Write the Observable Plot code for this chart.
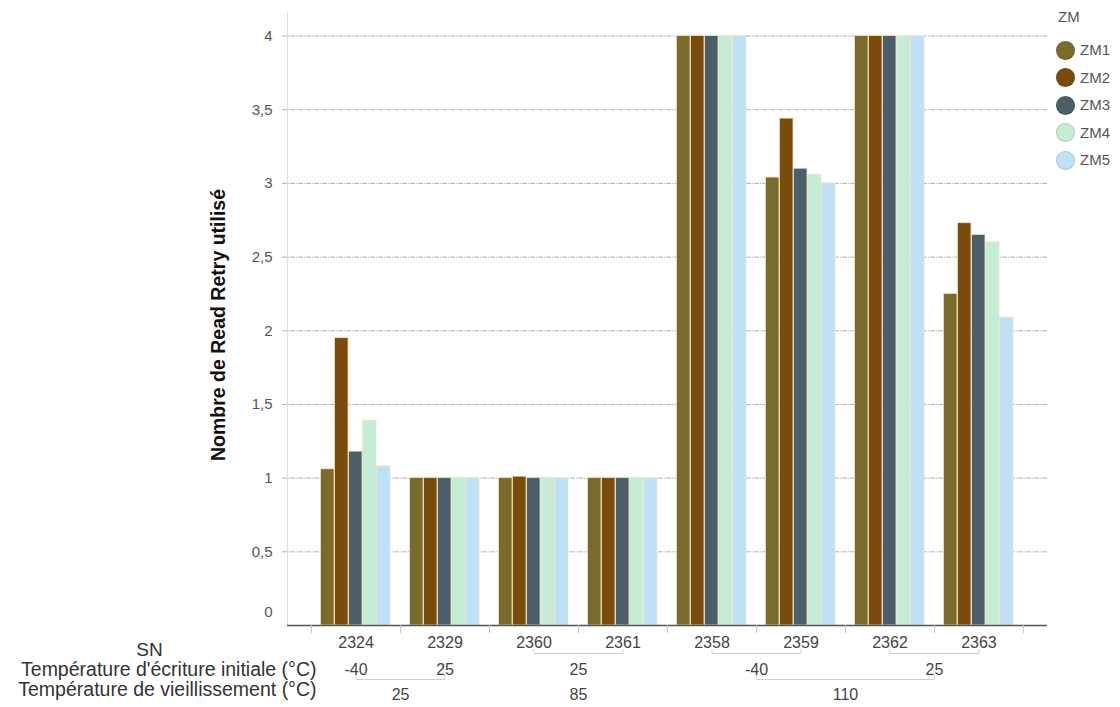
<!DOCTYPE html>
<html><head><meta charset="utf-8">
<script src="https://cdn.jsdelivr.net/npm/d3@7"></script>
<script src="https://cdn.jsdelivr.net/npm/@observablehq/plot@0.6"></script>
<style>
body{margin:0;background:#fff;font-family:"Liberation Sans",Arial,Helvetica,sans-serif;}
#wrap{position:relative;width:1120px;height:707px;overflow:hidden;}
#legend{position:absolute;left:1050px;top:0;font-size:15px;color:#555;}
#legend .title{position:absolute;left:8px;top:8px;white-space:nowrap;}
#legend .item{position:absolute;left:6px;white-space:nowrap;height:20px;line-height:20px;}
#legend .sw{display:inline-block;width:19px;height:19px;border-radius:50%;vertical-align:middle;box-sizing:border-box;border:1px solid rgba(0,0,0,0.12);margin-right:5px;}
#legend .lb{vertical-align:middle;}
</style></head>
<body><div id="wrap"><div id="chart"></div><div id="legend"></div></div>
<script>
const sn = ["2324","2329","2360","2361","2358","2359","2362","2363"];
const zm = ["ZM1","ZM2","ZM3","ZM4","ZM5"];
const zm1 = [1.06, 1, 1,    1, 4, 3.04, 4, 2.25];
const zm2 = [1.95, 1, 1.01, 1, 4, 3.44, 4, 2.73];
const zm3 = [1.18, 1, 1,    1, 4, 3.10, 4, 2.65];
const zm4 = [1.39, 1, 1,    1, 4, 3.06, 4, 2.60];
const zm5 = [1.08, 1, 1,    1, 4, 3.00, 4, 2.09];
const writeTemp = ["-40","25","25","25","-40","-40","25","25"];
const ageTemp = ["25","25","85","85","110","110","110","110"];
const yTicks = [0, 0.5, 1, 1.5, 2, 2.5, 3, 3.5, 4];
const colors = ["#7a6b2a", "#7b4b0c", "#4b5f6a", "#c5ecd4", "#bfe1f8"];
const yTitle = "Nombre de Read Retry utilisé";
const rowHeaders = ["SN", "Température d'écriture initiale (°C)", "Température de vieillissement (°C)"];

const series = [zm1, zm2, zm3, zm4, zm5];
const width = 1120, height = 707;
const marginLeft = 287, marginRight = 73, marginTop = 12, marginBottom = 82;
const padOuter = 0.27;
const step = (width - marginLeft - marginRight) / (sn.length + 2 * padOuter);
const barW = 13.5, pitch = 14, groupOff = 9.5;
const bracket = "#cfcfcf";

function runs(keys) {
  const out = [];
  keys.forEach((k, i) => {
    const last = out[out.length - 1];
    if (last && last.key === k) last.end = i; else out.push({key: k, start: i, end: i});
  });
  return out;
}
const writeRuns = runs(sn.map((_, i) => ageTemp[i] + "|" + writeTemp[i])).map(r => ({...r, label: writeTemp[r.start]}));
const ageRuns = runs(ageTemp).map(r => ({...r, label: ageTemp[r.start]}));

const font = "'Liberation Sans', Arial, sans-serif";
const marks = [];
// gridlines
marks.push(Plot.ruleY(yTicks.filter(v => v > 0), {stroke: "#b3b3b3", strokeDasharray: "5,1,1,1", strokeWidth: 1, insetLeft: -5}));
// left frame line
marks.push(Plot.ruleX([sn[0]], {dx: -(0.5 + padOuter) * step, stroke: "#dcdcdc"}));
// bars
series.forEach((vals, j) => {
  const data = sn.map((s, i) => ({sn: s, zm: zm[j], value: vals[i]}));
  const il = groupOff + j * pitch;
  marks.push(Plot.barY(data, {x: "sn", y: "value", fill: colors[j], stroke: "#efe3c6", strokeWidth: 0.8,
    insetLeft: il, insetRight: step - il - barW}));
});
// baseline
marks.push(Plot.ruleY([0], {stroke: "#555", strokeWidth: 1.5}));
// category boundary ticks
marks.push(Plot.ruleX(sn, {x: d => d, y1: 0, y2: 0, dx: -step / 2, insetBottom: -8, stroke: "#c8c8c8"}));
marks.push(Plot.ruleX([sn[sn.length - 1]], {x: d => d, y1: 0, y2: 0, dx: step / 2, insetBottom: -8, stroke: "#c8c8c8"}));
// y tick labels
marks.push(Plot.text(yTicks.filter(v => v > 0), {y: d => d, frameAnchor: "left", dx: -15, textAnchor: "end",
  text: d => String(d).replace(".", ","), fontSize: 15, fill: "#555"}));
marks.push(Plot.text([0], {y: d => d, frameAnchor: "left", dx: -15, dy: -13, textAnchor: "end",
  text: d => String(d), fontSize: 15, fill: "#555"}));
// y title
marks.push(Plot.text([yTitle], {frameAnchor: "left", textAnchor: "middle", dx: -69, dy: 6, rotate: -90, fontWeight: "bold", fontSize: 19.5, fill: "#111"}));
// x axis (SN)
marks.push(Plot.axisX({tickSize: 0, tickPadding: 11, fontSize: 16, fill: "#444", label: null}));
// row headers
const hdr = {frameAnchor: "bottom-left", lineAnchor: "middle", fill: "#333"};
marks.push(Plot.text([rowHeaders[0]], {...hdr, dx: -138, dy: 24, textAnchor: "middle", fontSize: 19}));
marks.push(Plot.text([rowHeaders[1]], {...hdr, dx: 29, dy: 44, textAnchor: "end", fontSize: 19.5}));
marks.push(Plot.text([rowHeaders[2]], {...hdr, dx: 29, dy: 64, textAnchor: "end", fontSize: 19.5}));
// write-temp row
writeRuns.forEach(r => {
  const off = (r.end - r.start) / 2 * step;
  marks.push(Plot.text([r], {x: d => sn[d.start], frameAnchor: "bottom", lineAnchor: "middle", dx: off, dy: 44, text: "label", fontSize: 16, fill: "#444"}));
  if (r.end > r.start) {
    marks.push(Plot.link([r], {x1: d => sn[d.start], x2: d => sn[d.end], y1: 0, y2: 0, dy: 28, stroke: bracket}));
    marks.push(Plot.ruleX([sn[r.start], sn[r.end]], {x: d => d, y1: 0, y2: 0, insetTop: 24, insetBottom: -28, stroke: bracket}));
  }
});
// age-temp row
ageRuns.forEach(r => {
  const kids = writeRuns.filter(w => w.start >= r.start && w.end <= r.end);
  const off = (r.end - r.start) / 2 * step;
  marks.push(Plot.text([r], {x: d => sn[d.start], frameAnchor: "bottom", lineAnchor: "middle", dx: off, dy: 69, text: "label", fontSize: 16, fill: "#444"}));
  if (kids.length > 1) {
    const a = kids[0], b = kids[kids.length - 1];
    const da = (a.end - a.start) / 2 * step; // children have equal spans here
    marks.push(Plot.link([r], {x1: () => sn[a.start], x2: () => sn[b.start], y1: 0, y2: 0, dx: da, dy: 54, stroke: bracket}));
    marks.push(Plot.ruleX([sn[a.start], sn[b.start]], {x: d => d, y1: 0, y2: 0, dx: da, insetTop: 50, insetBottom: -54, stroke: bracket}));
  }
});

const plot = Plot.plot({
  width, height, marginLeft, marginRight, marginTop, marginBottom,
  style: {fontFamily: font, background: "#fff", overflow: "visible"},
  x: {domain: sn, paddingInner: 0, paddingOuter: padOuter, round: false, axis: null},
  y: {domain: [0, 4.16], axis: null},
  marks
});
document.getElementById("chart").appendChild(plot);

// legend
const lg = document.getElementById("legend");
lg.innerHTML = '<div class="title">ZM</div>' + zm.map((z, j) =>
  `<div class="item" style="top:${39 + j * 27.6}px"><span class="sw" style="background:${colors[j]}"></span><span class="lb">${z}</span></div>`).join("");
</script>
</body></html>
